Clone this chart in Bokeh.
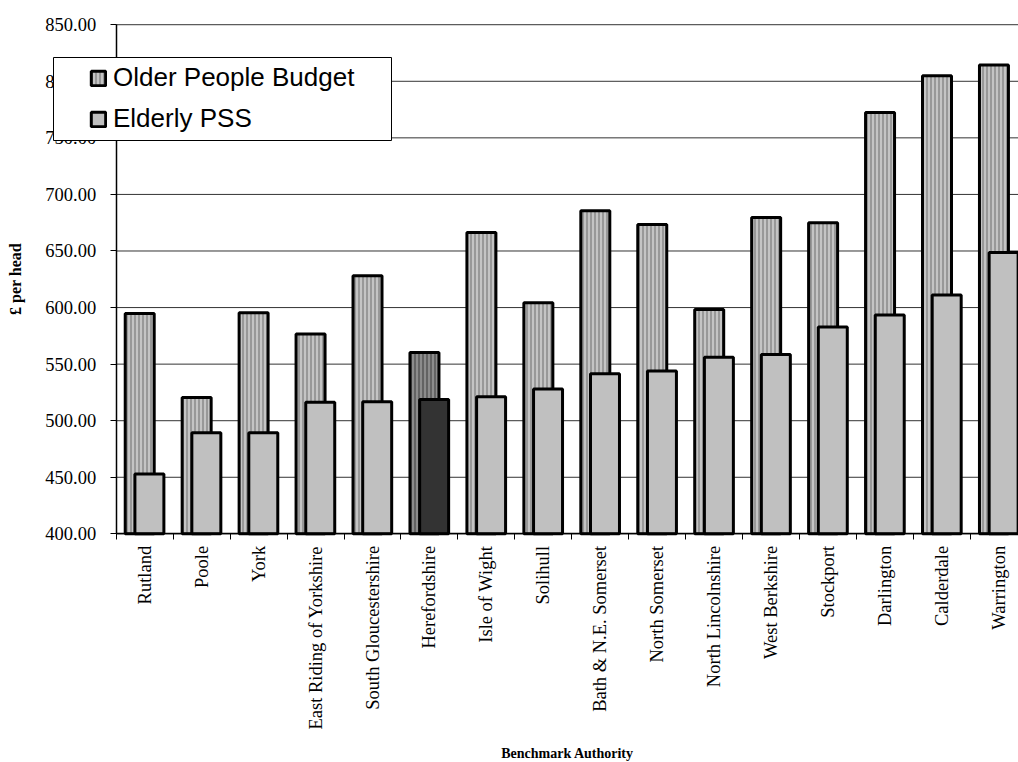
import math
from bokeh.plotting import figure
from bokeh.models import (ColumnDataSource, Range1d, FixedTicker, NumeralTickFormatter,
                          CustomJSTickFormatter, Legend, LegendItem, BoxAnnotation)
from bokeh.embed import file_html
from bokeh.resources import INLINE

# ---- data ----
authorities = ["Rutland", "Poole", "York", "East Riding of Yorkshire", "South Gloucestershire",
               "Herefordshire", "Isle of Wight", "Solihull", "Bath & N.E. Somerset",
               "North Somerset", "North Lincolnshire", "West Berkshire", "Stockport",
               "Darlington", "Calderdale", "Warrington"]
older_people_budget = [594.8, 520.6, 595.4, 576.6, 628.1, 560.3, 666.4, 604.3, 685.5, 673.4,
                       598.3, 679.6, 675.0, 772.4, 804.8, 814.3]
elderly_pss = [452.9, 489.4, 489.4, 516.2, 516.8, 518.8, 521.2, 528.0, 541.5, 543.9,
               556.0, 558.6, 582.8, 593.4, 611.0, 648.7]
highlight = "Herefordshire"
y_ticks = [400, 450, 500, 550, 600, 650, 700, 750, 800, 850]

n = len(authorities)
idx = list(range(n))
src = ColumnDataSource(dict(
    xb=[i + 0.412 for i in idx],
    xf=[i + 0.582 for i in idx],
    budget=older_people_budget,
    pss=elderly_pss,
    back_fill=["#8c8c8c" if a == highlight else "#c4c4c4" for a in authorities],
    back_hatch=["#555555" if a == highlight else "#8a8a8a" for a in authorities],
    front_fill=["#333333" if a == highlight else "#c0c0c0" for a in authorities],
))

X_END = 15.843
Y_MIN, Y_MAX = 400, 850
p = figure(width=1018, height=762, output_backend="svg", toolbar_location=None,
           x_range=Range1d(-2.0325, X_END), y_range=Range1d(197.9, 871.4),
           min_border_left=0, min_border_right=0, min_border_top=0, min_border_bottom=0)
p.outline_line_color = None
p.background_fill_color = "white"
p.border_fill_color = "white"

# grid lines (only across the category area)
p.xgrid.visible = False
p.ygrid.visible = False
p.segment(x0=[0] * len(y_ticks), x1=[n] * len(y_ticks), y0=y_ticks, y1=y_ticks,
          line_color="#333333", line_width=1, level="underlay")

# bars
rb = p.vbar(x="xb", top="budget", bottom=Y_MIN, width=0.509, source=src,
            fill_color="back_fill", hatch_pattern="|", hatch_color="back_hatch",
            hatch_scale=4, hatch_weight=1.5, line_color="black", line_width=3)
rf = p.vbar(x="xf", top="pss", bottom=Y_MIN, width=0.509, source=src,
            fill_color="front_fill", line_color="black", line_width=3)

# y axis (fixed at the start of the categories)
ya = p.yaxis[0]
ya.fixed_location = 0
ya.bounds = (Y_MIN, Y_MAX)
ya.ticker = FixedTicker(ticks=y_ticks)
ya.formatter = NumeralTickFormatter(format="0.00")
ya.major_label_text_font = "Liberation Serif"
ya.major_label_text_font_size = "18.5px"
ya.major_label_text_color = "black"
ya.major_tick_out = 6
ya.major_tick_in = 0
ya.minor_tick_line_color = None
ya.major_label_standoff = 14
ya.axis_line_color = "black"
ya.axis_line_width = 1.5
ya.axis_label = "£ per head"
ya.axis_label_text_font = "Liberation Serif"
ya.axis_label_text_font_size = "16px"
ya.axis_label_text_font_style = "bold"
ya.axis_label_text_color = "black"
ya.axis_label_standoff = 19

# x axis (fixed at the value-axis minimum)
xa = p.xaxis[0]
xa.fixed_location = Y_MIN
xa.bounds = (0, X_END)
xa.ticker = FixedTicker(ticks=[i + 0.5 for i in idx], minor_ticks=list(range(n + 1)))
xa.formatter = CustomJSTickFormatter(args=dict(names=authorities),
                                     code="return names[Math.floor(tick)] || '';")
xa.major_label_orientation = math.pi / 2
xa.major_label_text_font = "Liberation Serif"
xa.major_label_text_font_size = "18.5px"
xa.major_label_text_color = "black"
xa.major_tick_line_color = None
xa.major_tick_out = 6
xa.major_tick_in = 0
xa.minor_tick_out = 6
xa.minor_tick_in = 0
xa.minor_tick_line_color = "black"
xa.major_label_standoff = 6
xa.axis_line_color = "black"
xa.axis_line_width = 1.5
xa.axis_label = "Benchmark Authority"
xa.axis_label_text_font = "Liberation Serif"
xa.axis_label_text_font_size = "14px"
xa.axis_label_text_font_style = "bold"
xa.axis_label_text_color = "black"
xa.axis_label_standoff = 14

# legend frame (screen px from the frame's bottom-left)
box = BoxAnnotation(left=53, right=391, bottom=622, top=705,
                    left_units="screen", right_units="screen",
                    bottom_units="screen", top_units="screen",
                    fill_color="white", fill_alpha=1,
                    line_color="black", line_width=1, line_alpha=1)
p.add_layout(box)

leg = Legend(items=[LegendItem(label="Older People Budget", renderers=[rb]),
                    LegendItem(label="Elderly PSS", renderers=[rf])],
             location=(89, 627.7), padding=0, margin=0, spacing=10,
             glyph_width=18, glyph_height=18, label_standoff=6, label_height=18,
             label_text_font="Liberation Sans", label_text_font_size="26px",
             label_text_color="black",
             border_line_color=None, background_fill_alpha=0)
p.add_layout(leg)

open("out.html", "w").write(file_html(p, INLINE))
